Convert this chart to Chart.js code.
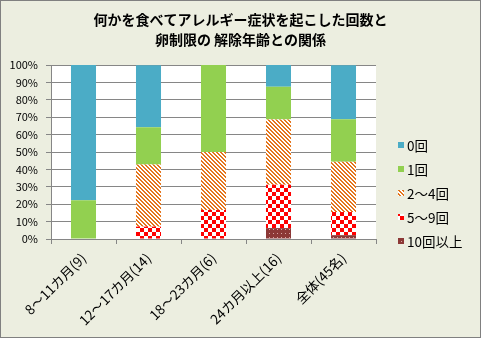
<!DOCTYPE html>
<html lang="ja">
  <head>
    <meta charset="UTF-8" />
    <title>アレルギー症状の回数と卵制限の解除年齢</title>
    <script src="https://cdn.jsdelivr.net/npm/chart.js"></script>
    <style>
      html, body { margin: 0; padding: 0; background: #eceee0; }
      #chart { display: block; }
    </style>
  </head>
  <body>
    <canvas id="chart" width="481" height="338"></canvas>

    <script>
      // 解除年齢の区分（括弧内は人数）
      const ageGroups = ["8～11カ月(9)", "12～17カ月(14)", "18～23カ月(6)", "24カ月以上(16)", "全体(45名)"];

      // 症状を起こした回数ごとの割合 (%)
      const share10plus = [0, 0, 0, 6.25, 2.2];
      const share5to9 = [0, 7.1, 16.7, 25.0, 13.3];
      const share2to4 = [0, 35.7, 33.3, 37.5, 28.9];
      const share1 = [22.2, 21.4, 50.0, 18.75, 24.4];
      const share0 = [77.8, 35.7, 0, 12.5, 31.1];

      const yTicks = [0, 10, 20, 30, 40, 50, 60, 70, 80, 90, 100];

      const titleLines = ["何かを食べてアレルギー症状を起こした回数と", "卵制限の 解除年齢との関係"];

      const FONT = "'Noto Sans CJK JP', sans-serif";

      // small tiles for the hatched fills
      function makePattern(size, paint) {
        const c = document.createElement("canvas");
        c.width = size;
        c.height = size;
        paint(c.getContext("2d"), size);
        return c.getContext("2d").createPattern(c, "repeat");
      }

      const stripes = makePattern(4, (g, s) => {
        g.fillStyle = "#ffffff";
        g.fillRect(0, 0, s, s);
        g.fillStyle = "#e4761e";
        for (let y = 0; y < s; y++) {
          for (let x = 0; x < s; x++) {
            if (((x - y) % 4 + 4) % 4 < 2) g.fillRect(x, y, 1, 1);
          }
        }
      });

      const checks = makePattern(8, (g, s) => {
        g.fillStyle = "#ffffff";
        g.fillRect(0, 0, s, s);
        g.fillStyle = "#ff0000";
        g.fillRect(0, 0, 4, 4);
        g.fillRect(4, 4, 4, 4);
      });

      const dots = makePattern(4, (g, s) => {
        g.fillStyle = "#8c3836";
        g.fillRect(0, 0, s, s);
        g.fillStyle = "#d9a6a4";
        g.fillRect(1, 1, 1, 1);
      });

      // page background, white plot area, title and outer frame
      const frame = {
        id: "frame",
        beforeDraw(chart) {
          const { ctx, chartArea: a } = chart;
          ctx.save();
          ctx.fillStyle = "#eceee0";
          ctx.fillRect(0, 0, chart.width, chart.height);
          ctx.fillStyle = "#ffffff";
          ctx.fillRect(a.left, a.top, a.right - a.left, a.bottom - a.top);
          ctx.restore();
        },
        afterDraw(chart) {
          const ctx = chart.ctx;
          ctx.save();
          ctx.font = "bold 14px " + FONT;
          ctx.textAlign = "center";
          ctx.textBaseline = "middle";
          ctx.fillStyle = "#000000";
          titleLines.forEach((line, i) => ctx.fillText(line, chart.width / 2, 20 + i * 20));
          ctx.strokeStyle = "#808080";
          ctx.lineWidth = 1;
          ctx.strokeRect(0.5, 0.5, chart.width - 1, chart.height - 1);
          ctx.restore();
        }
      };

      // legend on the right, top item = last dataset
      const sideLegend = {
        id: "sideLegend",
        afterDraw(chart) {
          const ctx = chart.ctx;
          const sets = chart.data.datasets.slice().reverse();
          ctx.save();
          ctx.font = "13.5px " + FONT;
          ctx.textBaseline = "middle";
          sets.forEach((ds, i) => {
            const cy = 145 + i * 24;
            ctx.fillStyle = ds.backgroundColor;
            ctx.fillRect(398, cy - 3, 6, 6);
            ctx.fillStyle = "#000000";
            ctx.fillText(ds.label, 407, cy + 1);
          });
          ctx.restore();
        }
      };

      Chart.defaults.font.family = FONT;
      Chart.defaults.color = "#000000";

      new Chart(document.getElementById("chart"), {
        type: "bar",
        data: {
          labels: ageGroups,
          datasets: [
            { label: "10回以上", data: share10plus, backgroundColor: dots },
            { label: "5～9回", data: share5to9, backgroundColor: checks },
            { label: "2～4回", data: share2to4, backgroundColor: stripes },
            { label: "1回", data: share1, backgroundColor: "#92d050" },
            { label: "0回", data: share0, backgroundColor: "#4bacc6" }
          ]
        },
        options: {
          responsive: false,
          animation: false,
          layout: { padding: { left: 0, right: 105, top: 65, bottom: 0 } },
          datasets: {
            bar: { categoryPercentage: 1, barPercentage: 0.385, borderWidth: 0 }
          },
          plugins: {
            legend: { display: false },
            tooltip: { enabled: false }
          },
          scales: {
            x: {
              stacked: true,
              afterFit: (s) => { s.height = 99; },
              border: { display: true, color: "#868686" },
              grid: { drawOnChartArea: false, drawTicks: true, tickLength: 5, color: "#868686" },
              ticks: { font: { size: 13.5 }, minRotation: 45, maxRotation: 45, padding: 6 }
            },
            y: {
              stacked: true,
              min: 0,
              max: 100,
              afterFit: (s) => { s.width = 51; },
              afterBuildTicks: (s) => { s.ticks = yTicks.map((v) => ({ value: v })); },
              border: { display: true, color: "#868686" },
              grid: { color: "#868686", tickLength: 5 },
              ticks: { font: { size: 11 }, padding: 8, callback: (v) => v + "%" }
            }
          }
        },
        plugins: [frame, sideLegend]
      });
    </script>
  </body>
</html>
